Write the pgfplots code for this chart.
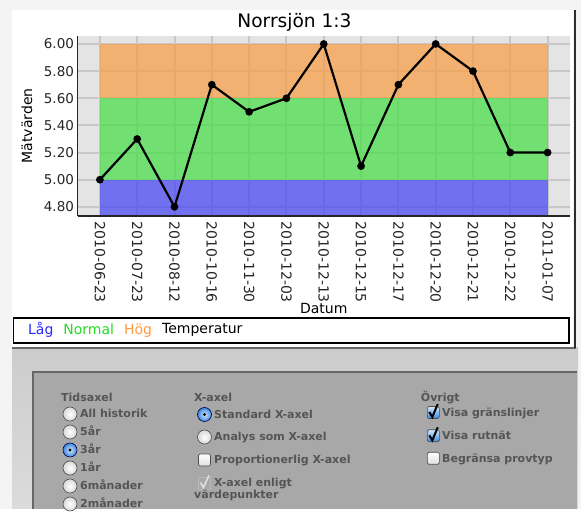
\documentclass[border=0pt]{standalone}
\usepackage{pgfplots}
\pgfplotsset{compat=1.18}
\usepackage{fontspec}
\setmainfont{DejaVu Sans}
\definecolor{pagebg}{HTML}{F4F4F4}
\definecolor{plotbg}{HTML}{E4E4E4}
\definecolor{gridc}{HTML}{C8C8C8}
\definecolor{bandlow}{HTML}{4141F5}
\definecolor{bandnorm}{HTML}{41DE41}
\definecolor{bandhigh}{HTML}{F89C41}
\definecolor{leglow}{HTML}{2626FF}
\definecolor{legnorm}{HTML}{22DD22}
\definecolor{leghigh}{HTML}{FF9A3C}
\definecolor{paneltext}{HTML}{555555}
\definecolor{panelfill}{HTML}{A8A8A8}
\definecolor{panelborder}{HTML}{666666}
\definecolor{aquain}{HTML}{D2E8FC}
\definecolor{aquaout}{HTML}{3C86DC}
\newcommand{\radiooff}[2]{\shadedraw[inner color=white, outer color=gray!30, draw=gray!60!black, line width=0.6pt] (#1,#2) circle (7);}
\newcommand{\radioon}[2]{\shadedraw[inner color=aquain, outer color=aquaout, draw=blue!30!black, line width=0.6pt] (#1,#2) circle (7);\fill[black] (#1,#2) circle (1.7);}
\newcommand{\cboff}[2]{\shadedraw[top color=white, bottom color=gray!25, draw=gray!60!black, line width=0.6pt, rounded corners=1.5pt] (#1-6,#2-6) rectangle (#1+6,#2+6);}
\newcommand{\cbon}[2]{\shadedraw[top color=aquain, bottom color=aquaout, draw=gray!60!black, line width=0.6pt, rounded corners=1.5pt] (#1-6,#2-6) rectangle (#1+6,#2+6);\draw[line width=2pt, black] (#1-4,#2+0.5) -- (#1-1,#2-4.5) -- (#1+4.5,#2+8.5);}
\newcommand{\cbdis}[2]{\draw[line width=0.6pt, gray!55] (#1-6,#2-6) rectangle (#1+6,#2+6);\draw[line width=1.6pt, gray!25] (#1-4,#2+0.5) -- (#1-1,#2-4.5) -- (#1+4.5,#2+7.5);}
\tikzset{ptxt/.style={anchor=base west, inner sep=0pt, text=paneltext, font=\bfseries\fontsize{11}{13}\selectfont}}
\begin{document}
\begin{tikzpicture}
\begin{scope}[x=1pt,y=1pt]
\fill[pagebg] (0,0) rectangle (581,509);
\shade[top color=gray!40, bottom color=gray!28] (12,0) rectangle (578,161);
\fill[white] (12,161) rectangle (573,499);
\draw[line width=1.5pt, panelborder] (12,161) -- (576,161);
\draw[line width=2pt, gray!35!black] (574.5,161) -- (574.5,499);
\fill[panelfill] (32,0) rectangle (577,138);
\draw[line width=2pt, panelborder] (33,0) -- (33,137) -- (577,137);
\draw[line width=1.3pt, black] (13.5,166) rectangle (569,191);
\node[anchor=base, inner sep=0pt, font=\fontsize{18.6}{22}\selectfont] at (294.5,481) {Norrsjön 1:3};
% control panel
\node[ptxt] at (61,107) {Tidsaxel};
\radiooff{70}{95}\node[ptxt] at (80,91) {All historik};
\radiooff{70}{77}\node[ptxt] at (80,73) {5år};
\radioon{70}{59}\node[ptxt] at (80,55) {3år};
\radiooff{70}{41}\node[ptxt] at (80,37) {1år};
\radiooff{70}{23}\node[ptxt] at (80,19) {6månader};
\radiooff{70}{5}\node[ptxt] at (80,1) {2månader};
\node[ptxt] at (194,107) {X-axel};
\radioon{204.5}{94.5}\node[ptxt] at (214,90.5) {Standard X-axel};
\radiooff{204.5}{72}\node[ptxt] at (214,68) {Analys som X-axel};
\cboff{204.5}{49}\node[ptxt] at (214,45) {Proportionerlig X-axel};
\cbdis{204.5}{26}\node[ptxt] at (214,22) {X-axel enligt};
\node[ptxt] at (194,10) {värdepunkter};
\node[ptxt] at (420.7,107) {Övrigt};
\cbon{433.3}{96.5}\node[ptxt] at (442,92.5) {Visa gränslinjer};
\cbon{433.3}{73.2}\node[ptxt] at (442,69.2) {Visa rutnät};
\cboff{433.3}{50.7}\node[ptxt] at (442,46.7) {Begränsa provtyp};
\end{scope}
\begin{axis}[
  at={(77.5pt,293pt)}, anchor=south west,
  scale only axis, width=492.5pt, height=180.3pt,
  xmin=-0.6, xmax=12.6, ymin=4.7325, ymax=6.061,
  axis background/.style={fill=plotbg},
  axis lines*=left,
  axis line style={line width=1.2pt, black!85},
  xtick={0,...,12},
  xticklabels={2010-06-23,2010-07-23,2010-08-12,2010-10-16,2010-11-30,2010-12-03,2010-12-13,2010-12-15,2010-12-17,2010-12-20,2010-12-21,2010-12-22,2011-01-07},
  ytick={4.8,5.0,5.2,5.4,5.6,5.8,6.0},
  xmajorgrids=true, ymajorgrids=true,
  major grid style={line width=2pt, draw=gridc},
  major tick length=0pt,
  xticklabel shift=2pt,
  /pgf/number format/assume math mode=true,
  yticklabel style={/pgf/number format/fixed, /pgf/number format/fixed zerofill, /pgf/number format/precision=2, font=\fontsize{13.5}{16}\selectfont, text=black!85},
  xticklabel style={rotate=-90, anchor=west, font=\fontsize{14}{16}\selectfont, text=black!85},
  every axis x label/.style={at={(axis description cs:0.5,-0.515)}, anchor=center, font=\fontsize{14}{16}\selectfont},
  every axis y label/.style={at={(axis description cs:-0.1025,0.5)}, anchor=center, rotate=90, font=\fontsize{14}{16}\selectfont},
  xlabel={Datum}, ylabel={Mätvärden},
  legend image code/.code={},
  legend columns=-1,
  legend style={at={(-0.1107,-0.6295)}, anchor=west, draw=none, fill=none, font=\fontsize{14}{16}\selectfont, /tikz/every even column/.append style={column sep=6pt}},
]
\addplot[draw=none, fill=bandlow, fill opacity=0.7] coordinates {(0,4.738) (12,4.738) (12,5.0) (0,5.0)} -- cycle;
\addlegendentry{\textcolor{leglow}{Låg}}
\addplot[draw=none, fill=bandnorm, fill opacity=0.7] coordinates {(0,5.0) (12,5.0) (12,5.6) (0,5.6)} -- cycle;
\addlegendentry{\textcolor{legnorm}{Normal}}
\addplot[draw=none, fill=bandhigh, fill opacity=0.7] coordinates {(0,5.6) (12,5.6) (12,6.0) (0,6.0)} -- cycle;
\addlegendentry{\textcolor{leghigh}{Hög}}
\addplot[black, line width=2.2pt, mark=*, mark size=2.7pt, mark options={solid}] coordinates {(0,5.0) (1,5.3) (2,4.8) (3,5.7) (4,5.5) (5,5.6) (6,6.0) (7,5.1) (8,5.7) (9,6.0) (10,5.8) (11,5.2) (12,5.2)};
\addlegendentry{Temperatur}
\end{axis}
\end{tikzpicture}
\end{document}
